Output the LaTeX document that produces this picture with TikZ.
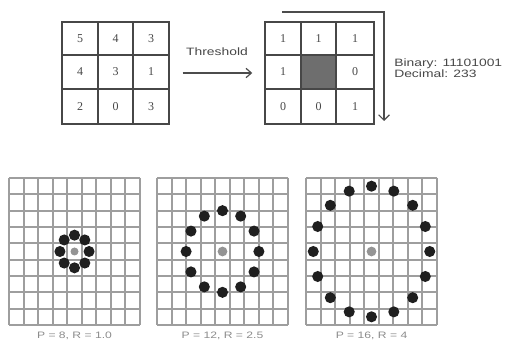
\documentclass[tikz,border=0pt]{standalone}
\usepackage{fontspec}
\setmainfont{Liberation Serif}
\newfontfamily\widesans[FakeStretch=1.3]{Liberation Sans}
\usetikzlibrary{arrows.meta}
\tikzset{
  frame/.style={draw=black!72, line width=1.1pt, inner sep=0pt},
  gline/.style={draw=black!72, line width=1.1pt},
  num/.style={font=\fontsize{9}{10}\selectfont, text=black!72, inner sep=0pt},
  lbl/.style={font=\widesans\fontsize{8}{7.2}\selectfont, text=black!72, inner sep=0pt},
  plbl/.style={font=\widesans\fontsize{7}{7}\selectfont, text=black!45, inner sep=0pt},
  bgrid/.style={draw=black!38, line width=1.5pt},
  dot/.style={circle, fill=black!88, inner sep=0pt, minimum size=8.3pt},
  cdot/.style={circle, fill=black!42, inner sep=0pt, minimum size=7.3pt},
  conn/.style={draw=black!70, line width=0.9pt},
}
\begin{document}
\begin{tikzpicture}[x=0.75pt,y=-0.75pt]
\useasboundingbox (0,0) rectangle (506,341);
% ---- left 3x3 grid
\node[frame, minimum width=80.25pt, minimum height=76.5pt] (L) at (115.5,73) {};
\draw[gline] (98,22) -- (98,124) (133,22) -- (133,124) (62,55) -- (169,55) (62,89) -- (169,89);
\node[num] (l11) at (80,38.5) {5};
\node[num] (l12) at (115.5,38.5) {4};
\node[num] (l13) at (151,38.5) {3};
\node[num] (l21) at (80,72) {4};
\node[num] (l22) at (115.5,72) {3};
\node[num] (l23) at (151,72) {1};
\node[num] (l31) at (80,106.5) {2};
\node[num] (l32) at (115.5,106.5) {0};
\node[num] (l33) at (151,106.5) {3};
% ---- right 3x3 grid
\fill[black!57] (301,55) rectangle (336,89);
\node[frame, minimum width=81.75pt, minimum height=76.5pt] (R) at (319.5,73) {};
\draw[gline] (301,22) -- (301,124) (336,22) -- (336,124) (265,55) -- (374,55) (265,89) -- (374,89);
\node[num] (r11) at (283,38.5) {1};
\node[num] (r12) at (318.5,38.5) {1};
\node[num] (r13) at (355,38.5) {1};
\node[num] (r21) at (283,72) {1};
\node[num] (r23) at (355,72) {0};
\node[num] (r31) at (283,106.5) {0};
\node[num] (r32) at (318.5,106.5) {0};
\node[num] (r33) at (355,106.5) {1};
% ---- threshold arrow
\node[lbl] (thr) at (217,52) {Threshold};
\draw[conn, -{Straight Barb[length=4pt,width=7pt]}] ([xshift=9.75pt]L.east) -- ([xshift=-9pt]R.west);
% ---- reading-order bracket
\coordinate (b0) at (282,12);
\coordinate (b2) at (384,121);
\draw[conn, -{Straight Barb[length=4pt,width=8pt]}] (b0) -| (b2);
% ---- result text
\node[lbl, anchor=west, align=left] (bin) at (394,68.5) {Binary: 11101001\\Decimal: 233};
% ---- bottom grids
\foreach \xo/\cx/\P/\R/\lab/\cs [count=\g] in {9/74.5/8/1/{P = 8, R = 1.0}/6pt, 157/222.5/12/2.5/{P = 12, R = 2.5}/7.3pt, 306/371.5/16/4/{P = 16, R = 4}/7.3pt}{
  \foreach \k in {0,...,9}{
    \draw[bgrid] ({round(\xo+\k*14.56)},178) -- ({round(\xo+\k*14.56)},325);
    \draw[bgrid] (\xo,{round(178+\k*16.33)}) -- ({\xo+131},{round(178+\k*16.33)});
  }
  \node[cdot, minimum size=\cs] (c\g) at (\cx,251.5) {};
  \foreach \j in {1,...,\P}{
    \node[dot] (d\g-\j) at ({\cx+\R*14.56*cos(360/\P*\j)},{251.5+\R*16.33*sin(360/\P*\j)}) {};
  }
  \node[plbl] (p\g) at (\cx,335.5) {\lab};
}
\end{tikzpicture}
\end{document}
